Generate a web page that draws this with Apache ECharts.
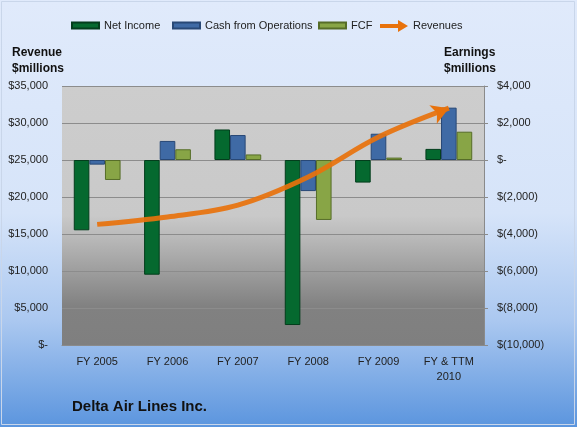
<!DOCTYPE html>
<html>
<head>
<meta charset="utf-8">
<script src="https://cdn.jsdelivr.net/npm/echarts@6/dist/echarts.min.js"></script>
<style>
  html, body { margin: 0; padding: 0; background: #fff; }
  #chart { width: 577px; height: 427px; }
</style>
</head>
<body>
<div id="chart"></div>
<script>
// data ($ millions)
var years = ['FY 2005', 'FY 2006', 'FY 2007', 'FY 2008', 'FY 2009', 'FY & TTM\n2010'];
var netIncome = [-3800, -6200, 1650, -8920, -1220, 600];
var cashOps = [-250, 1030, 1350, -1680, 1420, 2830];
var fcf = [-1080, 580, 300, -3240, 130, 1530];
var revenues = [16300, 17300, 18900, 22700, 28100, 32000];

var chartDom = document.getElementById('chart');
var myChart = echarts.init(chartDom);
var font = 'Liberation Sans';

function money(v) {
    if (v === 0) return '$-';
    var s = Math.abs(v).toLocaleString('en-US');
    return v < 0 ? '$(' + s + ')' : '$' + s;
}

function bar(name, values, fill, edge) {
    return {
        name: name,
        type: 'bar',
        yAxisIndex: 1,
        barWidth: 15.6,
        barGap: '0%',
        data: values,
        itemStyle: { color: fill, borderColor: edge, borderWidth: 1 }
    };
}

// revenue line ends in an arrow head
var revData = revenues.map(function (v, i) {
    if (i === revenues.length - 1) {
        return { value: v, symbol: 'arrow', symbolSize: [15, 17], symbolRotate: -68 };
    }
    return { value: v, symbol: 'none' };
});

var legendText = { fontSize: 11, color: '#222', fontFamily: font };

// one legend per entry so each sits where the reference puts it
function legendAt(x, item, w, h) {
    return {
        top: 27 - Math.max(h, 14) / 2,
        left: x,
        padding: 0,
        icon: 'rect',
        itemWidth: w,
        itemHeight: h,
        textStyle: legendText,
        data: [item]
    };
}

var option = {
    backgroundColor: new echarts.graphic.LinearGradient(0, 0, 0, 1, [
        { offset: 0, color: '#e0eafb' },
        { offset: 0.5, color: '#d6e4f9' },
        { offset: 0.75, color: '#abc8f0' },
        { offset: 1, color: '#5b95de' }
    ]),
    textStyle: { fontFamily: font },
    legend: [
        legendAt(71, 'Net Income', 27, 6),
        legendAt(172, 'Cash from Operations', 27, 6),
        legendAt(318, 'FCF', 27, 6),
        legendAt(380, { name: 'Revenues', icon: 'path://M0,4 L18,4 L18,0 L28,6 L18,12 L18,8 L0,8 Z', itemStyle: { color: '#e8720c' } }, 28, 12)
    ],
    grid: {
        left: 62, right: 93, top: 86, bottom: 82,
        show: true,
        borderWidth: 0,
        backgroundColor: new echarts.graphic.LinearGradient(0, 0, 0, 1, [
            { offset: 0, color: '#cdcdcd' },
            { offset: 0.5, color: '#c9c9c9' },
            { offset: 0.6, color: '#b6b6b6' },
            { offset: 0.85, color: '#818181' },
            { offset: 1, color: '#7f7f7f' }
        ])
    },
    xAxis: {
        type: 'category',
        data: years,
        axisLine: { lineStyle: { color: '#8a8a8a' } },
        axisTick: { show: false },
        axisLabel: { fontSize: 11, color: '#222', margin: 9, lineHeight: 15 }
    },
    yAxis: [
        {
            type: 'value',
            min: 0, max: 35000, interval: 5000,
            axisLine: { show: false },
            axisTick: { show: false },
            splitLine: { lineStyle: { color: '#8c8c8c', width: 1 } },
            axisLabel: { fontSize: 11, color: '#222', margin: 14, formatter: money }
        },
        {
            type: 'value',
            min: -10000, max: 4000, interval: 2000,
            axisLine: { show: true, lineStyle: { color: '#8a8a8a' } },
            axisTick: { show: true, inside: false, length: 4, lineStyle: { color: '#8a8a8a' } },
            splitLine: { show: false },
            axisLabel: { fontSize: 11, color: '#222', margin: 13, formatter: money }
        }
    ],
    series: [
        bar('Net Income', netIncome, '#05692f', '#033d1c'),
        bar('Cash from Operations', cashOps, '#3f6aa5', '#284876'),
        bar('FCF', fcf, '#88a546', '#566d28'),
        {
            name: 'Revenues',
            type: 'line',
            yAxisIndex: 0,
            smooth: 0.35,
            z: 5,
            data: revData,
            color: '#e8720c',
            lineStyle: { width: 5, color: '#e8720c', opacity: 0.92 },
            itemStyle: { color: '#e8720c' }
        }
    ],
    graphic: [
        { type: 'text', left: 12, top: 45, style: { text: 'Revenue\n$millions', font: 'bold 12px ' + font, fill: '#111', lineHeight: 16 } },
        { type: 'text', left: 444, top: 45, style: { text: 'Earnings\n$millions', font: 'bold 12px ' + font, fill: '#111', lineHeight: 16, align: 'center' } },
        { type: 'text', left: 72, top: 399, style: { text: 'Delta Air Lines Inc.', font: 'bold 15px ' + font, fill: '#111' } },
        { type: 'rect', shape: { x: 1.5, y: 1.5, width: 573, height: 423 }, style: { fill: 'none', stroke: '#c9d6ea', lineWidth: 1 }, silent: true }
    ]
};

option && myChart.setOption(option);
</script>
</body>
</html>
